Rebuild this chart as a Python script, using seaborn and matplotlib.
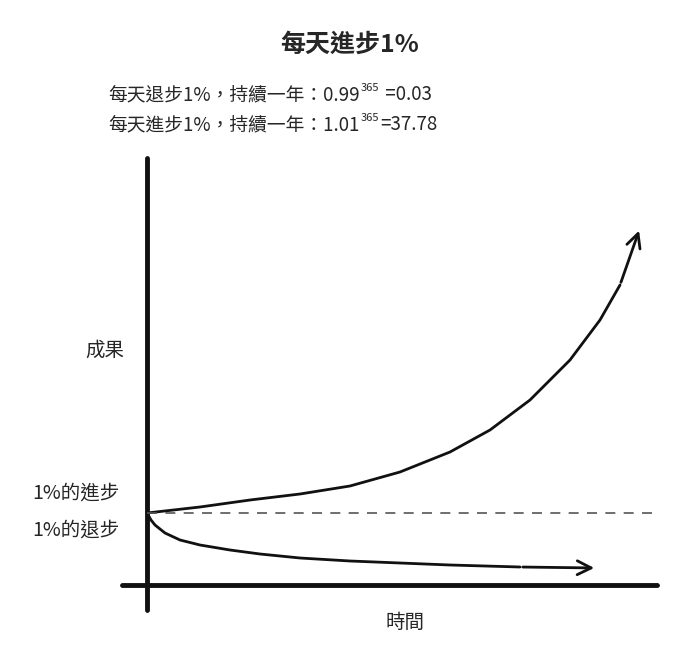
import matplotlib
matplotlib.use("Agg")
import matplotlib.pyplot as plt
import seaborn as sns

sns.set_theme(style="white")
plt.rcParams['font.family'] = ['Noto Sans CJK TC', 'DejaVu Sans']

up_t = [0, 53, 103, 153, 203, 253, 303, 343, 383, 423, 453, 473, 493]
up_v = [72, 78, 85, 91, 99, 113, 133, 155, 185, 225, 265, 300, 357]
dn_t = [0, 4, 8, 18, 33, 53, 83, 113, 153, 203, 253, 303, 373, 450]
dn_v = [72, 65, 60, 52, 45, 40, 35, 31, 27, 24, 22, 20, 18, 17]

fig = plt.figure(figsize=(7, 6.45), dpi=100)
ax = fig.add_axes([0, 0, 1, 1])
ax.set_xlim(-147, 553)
ax.set_ylim(-60, 585)
ax.axis('off')

sns.lineplot(x=up_t[:-1], y=up_v[:-1], ax=ax, color='#111', lw=2, sort=False)
sns.lineplot(x=dn_t[:-1], y=dn_v[:-1], ax=ax, color='#111', lw=2, sort=False)
ax.annotate('', xy=(up_t[-1], up_v[-1]), xytext=(up_t[-2], up_v[-2]),
            arrowprops=dict(arrowstyle='->', lw=2, color='#111', mutation_scale=25))
ax.annotate('', xy=(dn_t[-1], dn_v[-1]), xytext=(dn_t[-2], dn_v[-2]),
            arrowprops=dict(arrowstyle='->', lw=2, color='#111', mutation_scale=25))

ax.plot([0, 0], [-25, 427], color='#111', lw=3.5)
ax.plot([-25, 510], [0, 0], color='#111', lw=3.5)
ax.plot([0, 510], [72, 72], color='#555', lw=1.2, ls=(0, (6, 5)))

ax.text(-42, 235, '成果', fontsize=14, ha='center', va='center')
ax.text(-71, 92, '1%的進步', fontsize=14, ha='center', va='center')
ax.text(-71, 55, '1%的退步', fontsize=14, ha='center', va='center')
ax.text(258, -37, '時間', fontsize=14, ha='center', va='center')

fig.text(0.5, 1 - 45/645, '每天進步1%', fontsize=18, fontweight='bold', ha='center', va='center')

fig.canvas.draw()
r = fig.canvas.get_renderer()
def line(y, a, sup, b):
    t1 = fig.text(108/700, 1 - y/645, a, fontsize=13.5, va='center')
    bb = t1.get_window_extent(r)
    t2 = fig.text(bb.x1/700 + 0.002, 1 - (y-7)/645, sup, fontsize=8, va='center')
    bb2 = t2.get_window_extent(r)
    fig.text(bb2.x1/700 + 0.002, 1 - y/645, b, fontsize=13.5, va='center')
line(95, '每天退步1%，持續一年：0.99', '365', ' =0.03')
line(125, '每天進步1%，持續一年：1.01', '365', '=37.78')

fig.savefig('out.png', dpi=100, facecolor='white')
